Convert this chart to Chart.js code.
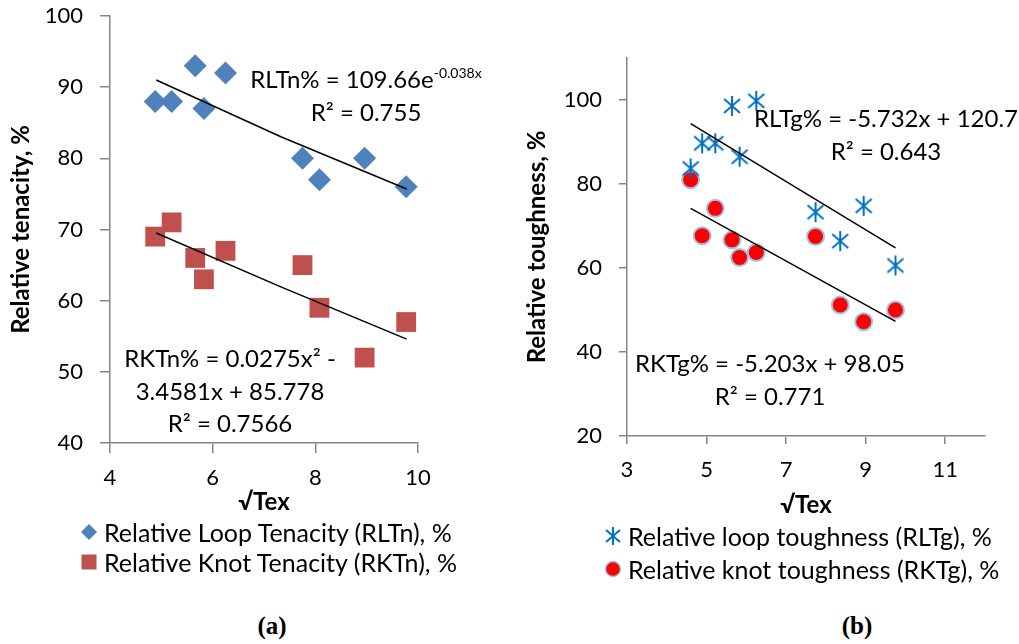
<!DOCTYPE html>
<html>
<head>
<meta charset="utf-8">
<script src="https://cdn.jsdelivr.net/npm/chart.js@4.4.0/dist/chart.umd.min.js"></script>
<style>
	body { margin: 0; width: 1019px; height: 644px; background: #fff; position: relative; overflow: hidden; font-family: Lato, "Open Sans", sans-serif; color: #000; }
	.wrap { position: absolute; top: 0; height: 520px; }
	#wrapA { left: 0; width: 520px; }
	#wrapB { left: 510px; width: 509px; }
	.note { position: absolute; font-size: 24px; line-height: 32.5px; white-space: nowrap; text-align: center; transform: translateX(-50%); }
	.note sup { font-size: 14px; vertical-align: 10px; line-height: 0; }
	.legend { position: absolute; font-size: 25px; white-space: nowrap; }
	.legend div { display: flex; align-items: center; }
	.legend svg { margin-right: 6px; flex: none; }
	.tag { position: absolute; top: 612px; font: bold 25px "Liberation Serif", serif; transform: translateX(-50%); }
</style>
</head>
<body>
	<div class="wrap" id="wrapA"><canvas id="chartA"></canvas></div>
	<div class="wrap" id="wrapB"><canvas id="chartB"></canvas></div>

	<div class="note" style="left:366px; top:63px;">RLTn% = 109.66e<sup>-0.038x</sup><br>R² = 0.755</div>
	<div class="note" style="left:230px; top:342px;">RKTn% = 0.0275x² -<br>3.4581x + 85.778<br>R² = 0.7566</div>
	<div class="note" style="left:886px; top:102px;">RLTg% = -5.732x + 120.7<br>R² = 0.643</div>
	<div class="note" style="left:770px; top:347px;">RKTg% = -5.203x + 98.05<br>R² = 0.771</div>

	<div class="legend" style="left:80px; top:517px;">
		<div style="height:30px"><svg width="18" height="18"><polygon points="9,1 17,9 9,17 1,9" fill="#4F81BD"/></svg>Relative Loop Tenacity (RLTn), %</div>
		<div style="height:30px"><svg width="18" height="18"><rect x="1.5" y="1.5" width="15" height="15" fill="#C0504D"/></svg>Relative Knot Tenacity (RKTn), %</div>
	</div>
	<div class="legend" style="left:604px; top:519px;">
		<div style="height:33px"><svg width="18" height="20"><g stroke="#0070C0" stroke-width="2"><line x1="9" y1="1" x2="9" y2="19"/><line x1="2" y1="4" x2="16" y2="16"/><line x1="2" y1="16" x2="16" y2="4"/></g></svg>Relative loop toughness (RLTg), %</div>
		<div style="height:33px"><svg width="18" height="20"><circle cx="9" cy="10" r="7.5" fill="#FF0000" stroke="#9DC3E6" stroke-width="1.5"/></svg>Relative knot toughness (RKTg), %</div>
	</div>

	<div class="tag" style="left:272px;">(a)</div>
	<div class="tag" style="left:857px;">(b)</div>

<script>
// (a) tenacity vs sqrt(tex)
const tenacityX = [4.88, 5.2, 5.66, 5.83, 6.25, 7.75, 8.08, 8.96, 9.77];
const loopTenacity = [88, 88, 93, 87, 92, 80, 77, 80, 76];
const knotTenacity = [69, 71, 66, 63, 67, 65, 59, 52, 57];

const tenacityTrendX = [4.9, 7.34, 9.78];
const loopTenacityTrend = [91.0, 83.0, 75.7];
const knotTenacityTrend = [69.5, 61.9, 54.6];

const tenacityXTicks = [4, 6, 8, 10];
const tenacityYTicks = [40, 50, 60, 70, 80, 90, 100];

// (b) toughness vs sqrt(tex)
const toughnessX = [4.6, 4.89, 5.22, 5.64, 5.83, 6.25, 7.74, 8.36, 8.95, 9.75];
const loopToughness = [83.7, 89.7, 89.7, 98.6, 86.5, 99.8, 73.3, 66.4, 74.8, 60.6];
const knotToughness = [81, 67.7, 74.2, 66.7, 62.5, 63.7, 67.5, 51.2, 47.2, 50];

const toughnessTrendX = [4.6, 9.75];
const loopToughnessTrend = [94.4, 64.8];
const knotToughnessTrend = [74.2, 47.3];

const toughnessXTicks = [3, 5, 7, 9, 11];
const toughnessYTicks = [20, 40, 60, 80, 100];

const axisGrey = '#868686';
const tickFont = { family: 'Lato', size: 22 };
const titleFont = { family: 'Lato', size: 24, weight: 'bold' };

const toPoints = (xs, ys) => xs.map((x, i) => ({ x, y: ys[i] }));

const makeStar = () => {
	const c = document.createElement('canvas');
	c.width = 20;
	c.height = 22;
	const ctx = c.getContext('2d');
	ctx.strokeStyle = '#0070C0';
	ctx.lineWidth = 2;
	ctx.beginPath();
	ctx.moveTo(10, 1); ctx.lineTo(10, 21);
	ctx.moveTo(2, 4); ctx.lineTo(18, 18);
	ctx.moveTo(2, 18); ctx.lineTo(18, 4);
	ctx.stroke();
	return c;
};

const trendSet = (xs, ys) => ({
	data: toPoints(xs, ys),
	showLine: true,
	borderColor: '#000',
	borderWidth: 1.5,
	pointRadius: 0,
	fill: false,
	order: 0,
});

const fixedTicks = (values) => (scale) => {
	scale.ticks = values.map((value) => ({ value }));
};

const buildScales = (cfg) => ({
	x: {
		type: 'linear',
		min: cfg.xMin,
		max: cfg.xMax,
		afterBuildTicks: fixedTicks(cfg.xTicks),
		afterFit: (scale) => { scale.height = cfg.xHeight; },
		ticks: { font: tickFont, color: '#000', padding: cfg.xPad },
		grid: { drawOnChartArea: false, drawTicks: true, tickLength: cfg.tick, color: axisGrey, lineWidth: 1.5 },
		border: { color: axisGrey, width: 1.5 },
		title: { display: true, text: '√Tex', font: titleFont, color: '#000', padding: { top: 0, bottom: cfg.xTitlePad } },
	},
	y: {
		type: 'linear',
		min: cfg.yMin,
		max: cfg.yMax,
		afterBuildTicks: fixedTicks(cfg.yTicks),
		afterFit: (scale) => {
			// keep the label padding from pushing the plot top down
			scale.width = cfg.yWidth;
			scale.paddingTop = 0;
			scale.paddingBottom = 0;
		},
		ticks: { font: tickFont, color: '#000', padding: cfg.yPad },
		grid: { drawOnChartArea: false, drawTicks: true, tickLength: cfg.tick, color: axisGrey, lineWidth: 1.5 },
		border: { color: axisGrey, width: 1.5 },
		title: { display: true, text: cfg.yTitle, font: titleFont, color: '#000', padding: { top: cfg.yTitlePad, bottom: 0 } },
	},
});

const baseOptions = (cfg) => ({
	responsive: true,
	maintainAspectRatio: false,
	animation: false,
	layout: { padding: cfg.padding },
	plugins: { legend: { display: false }, tooltip: { enabled: false } },
	scales: buildScales(cfg),
});

new Chart(document.getElementById('chartA'), {
	type: 'scatter',
	data: {
		datasets: [
			{
				data: toPoints(tenacityX, loopTenacity),
				pointStyle: 'rectRot',
				pointRadius: 11.5,
				backgroundColor: '#4F81BD',
				borderWidth: 0,
				order: 1,
			},
			{
				data: toPoints(tenacityX, knotTenacity),
				pointStyle: 'rect',
				pointRadius: 14,
				backgroundColor: '#C0504D',
				borderWidth: 0,
				order: 1,
			},
			trendSet(tenacityTrendX, loopTenacityTrend),
			trendSet(tenacityTrendX, knotTenacityTrend),
		],
	},
	options: baseOptions({
		padding: { left: 0, top: 16, right: 102, bottom: 0 },
		xMin: 4, xMax: 10, xTicks: tenacityXTicks, xHeight: 77, xPad: 12, xTitlePad: 3,
		yMin: 40, yMax: 100, yTicks: tenacityYTicks, yWidth: 110, yPad: 17, yTitlePad: 7,
		tick: 10,
		yTitle: 'Relative tenacity, %',
	}),
});

new Chart(document.getElementById('chartB'), {
	type: 'scatter',
	data: {
		datasets: [
			{
				data: toPoints(toughnessX, loopToughness),
				pointStyle: makeStar(),
				order: 1,
			},
			{
				data: toPoints(toughnessX, knotToughness),
				pointStyle: 'circle',
				pointRadius: 8.5,
				backgroundColor: '#FF0000',
				borderColor: '#9DC3E6',
				borderWidth: 2,
				order: 1,
			},
			trendSet(toughnessTrendX, loopToughnessTrend),
			trendSet(toughnessTrendX, knotToughnessTrend),
		],
	},
	options: baseOptions({
		padding: { left: 0, top: 58, right: 34, bottom: 0 },
		xMin: 3, xMax: 12, xTicks: toughnessXTicks, xHeight: 84, xPad: 13, xTitlePad: 0,
		yMin: 20, yMax: 110, yTicks: toughnessYTicks, yWidth: 117, yPad: 17, yTitlePad: 13,
		tick: 8,
		yTitle: 'Relative toughness, %',
	}),
});
</script>
</body>
</html>
